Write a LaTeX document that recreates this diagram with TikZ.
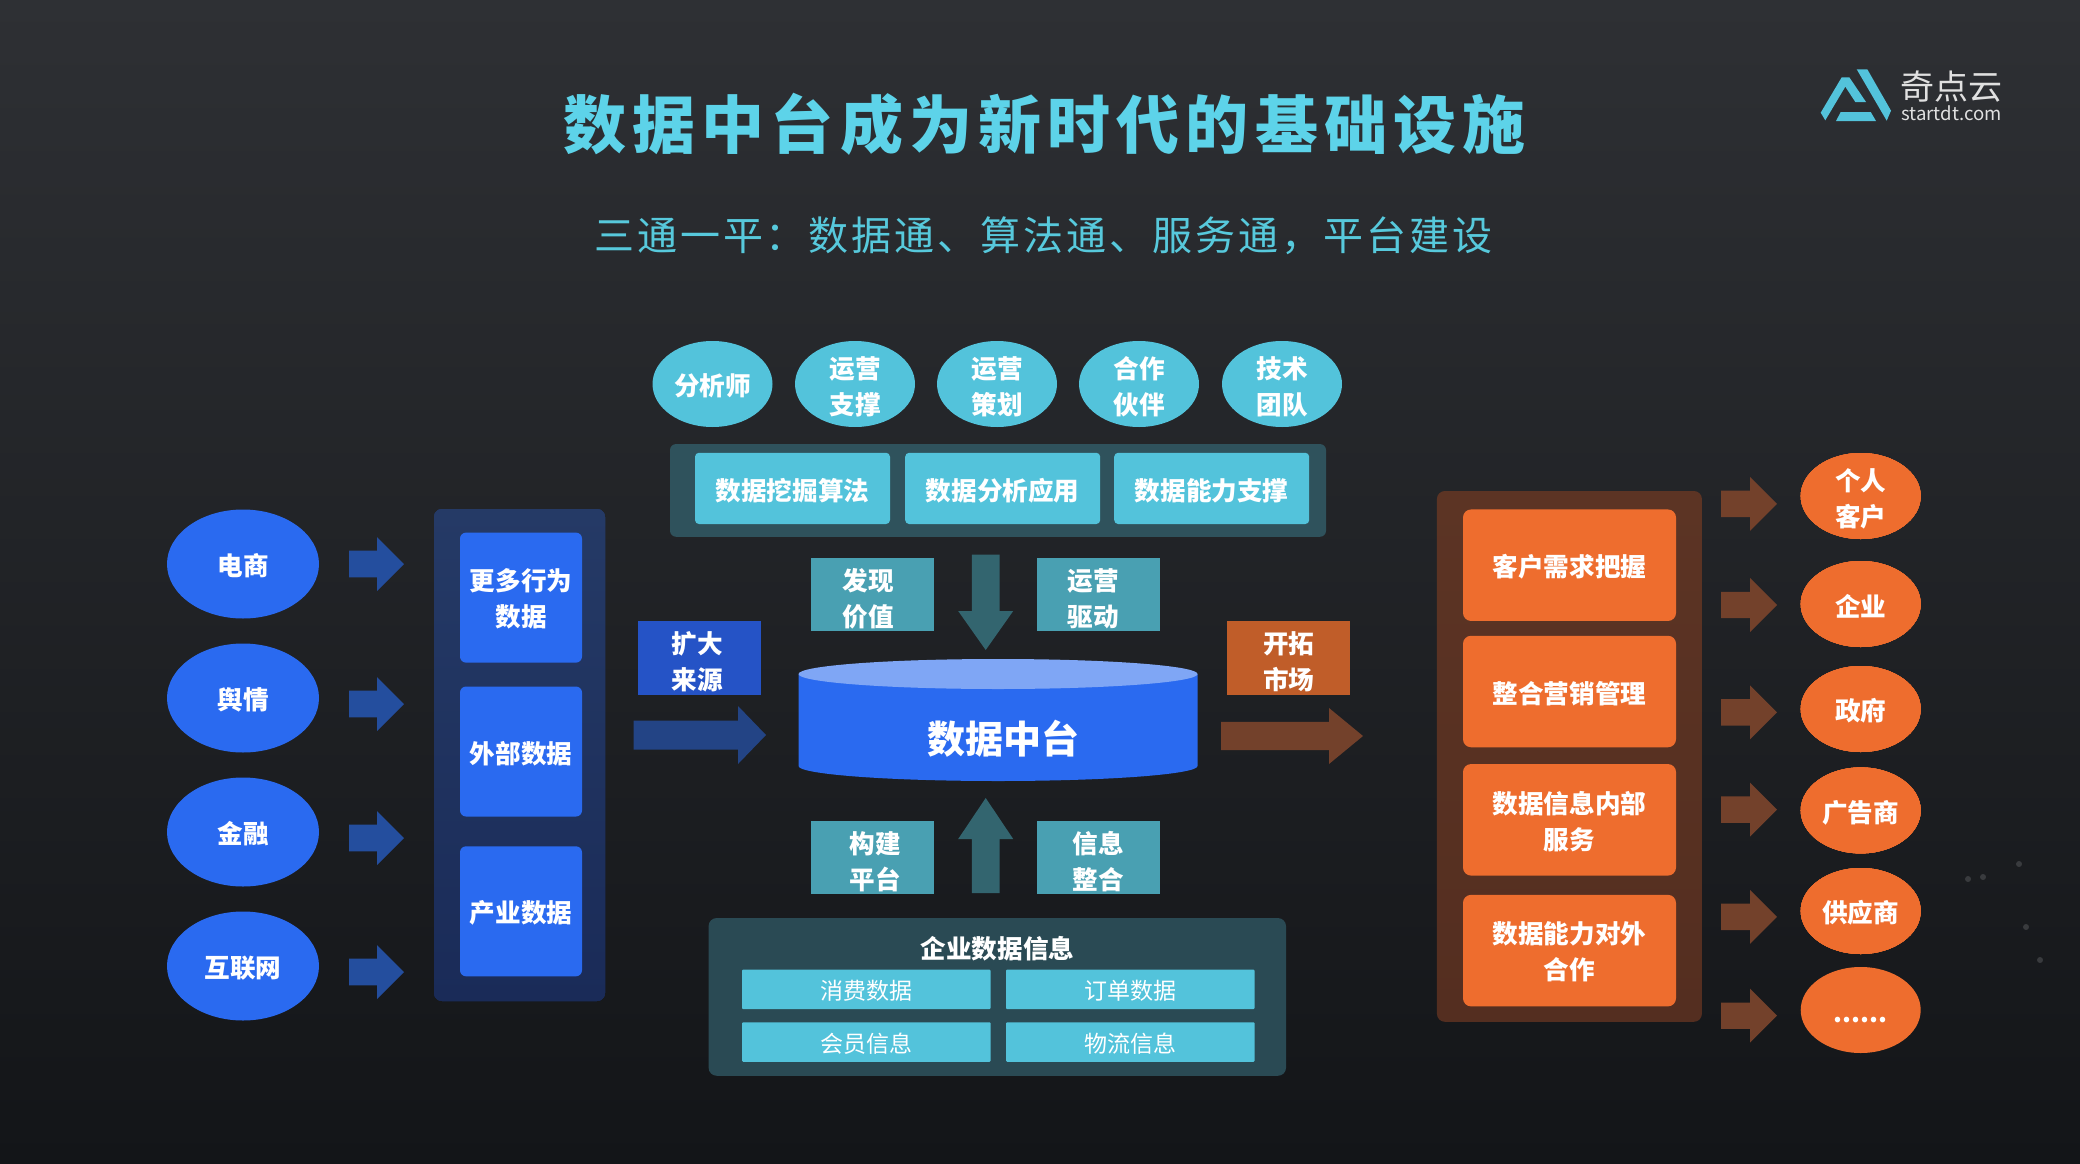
\documentclass[tikz,border=0pt]{standalone}
\usepackage{fontspec}
\setmainfont{Noto Sans CJK SC}
\usetikzlibrary{shapes.geometric}
\definecolor{bgtop}{HTML}{2E3034}
\definecolor{bgmid}{HTML}{202326}
\definecolor{bgbot}{HTML}{131518}
\definecolor{bluemain}{HTML}{2A6AF0}
\definecolor{bluearrow}{HTML}{244E9E}
\definecolor{bluewide}{HTML}{234485}
\definecolor{bluedeep}{HTML}{2553C6}
\definecolor{bluetop}{HTML}{253A66}
\definecolor{bluebot}{HTML}{1A2B58}
\definecolor{bluelid}{HTML}{7FA6F5}
\definecolor{cyanmain}{HTML}{53C3DB}
\definecolor{cyantitle}{HTML}{5DD3E9}
\definecolor{cyansub}{HTML}{57C9DC}
\definecolor{tealbox}{HTML}{49A0B2}
\definecolor{tealarrow}{HTML}{33656F}
\definecolor{tealtop}{HTML}{2F525C}
\definecolor{tealbot}{HTML}{2A4A54}
\definecolor{orangemain}{HTML}{EE6D2E}
\definecolor{orangedeep}{HTML}{C05D29}
\definecolor{orangearrow}{HTML}{73412B}
\definecolor{orangetop}{HTML}{5C3424}
\definecolor{orangebot}{HTML}{542E20}
\newcommand{\blockarrow}[8]{\fill[#8,shift={(#1,#2)},rotate=#3] (0,-#5) -- ({#4-#7},-#5) -- ({#4-#7},-#6) -- (#4,0) -- ({#4-#7},#6) -- ({#4-#7},#5) -- (0,#5) -- cycle;}
\tikzset{
	lift/.style={execute at begin node={\rule{0pt}{#1}}},
	label26/.style={font=\fontsize{25.6}{36}\selectfont\bfseries,text=white,align=center,inner sep=0pt,lift=26pt},
	dims/.style 2 args={minimum width=#1pt,minimum height=#2pt},
	box/.style={rectangle,label26,rounded corners=#1},
	box/.default=6pt,
	minibox/.style={rectangle,rounded corners=1pt,text=white,inner sep=0pt,font=\fontsize{23}{26}\selectfont,lift=22pt,fill=cyanmain,dims={248.5}{39.5}},
	oval/.style={ellipse,label26,inner sep=-4pt,minimum width=#1},
}
\begin{document}
\begin{tikzpicture}[x=1pt,y=-1pt,line join=round]
	\shade[top color=bgtop,middle color=bgmid,bottom color=bgbot] (0,0) rectangle (2080,1164);
	\useasboundingbox (0,0) rectangle (2080,1164);
	\foreach \x/\y in {2019/864,1983/877,1968/879,2026/927,2040/960}
		\fill[white!11!bgmid] (\x,\y) circle(3);
	\node[font=\fontsize{63}{66}\selectfont\bfseries,text=cyantitle,inner sep=0pt] (title) at (1044.5,124) {\addfontfeature{LetterSpace=9.8}数据中台成为新时代的基础设施};
	\node[font=\fontsize{40}{44}\selectfont,text=cyansub,inner sep=0pt] (subtitle) at (1043.5,236) {\addfontfeature{LetterSpace=7.3}三通一平：数据通、算法通、服务通，平台建设};
	\fill[cyanmain] (1820.7,112.7)--(1841.7,77.3)--(1849.3,77.3)--(1866,102)--(1855.3,102)--(1845.3,86.7)--(1825.3,120.3)--cycle;
	\fill[cyanmain] (1840.7,112)--(1870.7,112)--(1876,121)--(1836,121)--cycle;
	\fill[cyanmain] (1856.7,69.3)--(1867.3,69.3)--(1891,110.7)--(1886.7,120.7)--cycle;
	\node[font=\fontsize{34}{36}\selectfont,text=white!88!black,inner sep=0pt] (brand) at (1951,87) {奇点云};
	\node[font=\fontsize{18.6}{20}\selectfont,text=white!88!black,inner sep=0pt] (site) at (1951.5,113) {startdt.com};

	\foreach \y/\txt/\name in {564/电商/shop,698/舆情/news,832/金融/bank,966/互联网/web}
		\node[oval=152pt,minimum height=109pt,fill=bluemain] (\name) at (243,\y) {\txt};
	\foreach \y in {564,704,838,972}
		\blockarrow{349}{\y}{0}{55}{13.4}{27}{27}{bluearrow}
	\node[box=8pt,dims={171}{492},top color=bluetop,bottom color=bluebot] (srcpanel) at (519.5,755) {};
	\node[box,dims={122}{130},fill=bluemain,lift=61pt] (more) at (521,597.6) {更多行为\\数据};
	\node[box,dims={122}{130},fill=bluemain] (outer) at (521,751.5) {外部数据};
	\node[box,dims={122}{130},fill=bluemain] (industry) at (521,911.3) {产业数据};

	\foreach \x/\txt/\name/\up in {712.5/分析师/analyst/26pt,855/运营\\支撑/support/63pt,997/运营\\策划/plan/63pt,1139/合作\\伙伴/partner/63pt,1282/技术\\团队/tech/63pt}
		\node[oval=120pt,minimum height=86pt,fill=cyanmain,lift=\up] (\name) at (\x,384) {\txt};
	\node[box=6pt,dims={656}{92.7},fill=tealtop] (algopanel) at (998,490.4) {};
	\node[box=4pt,dims={195}{71.3},fill=cyanmain] (mining) at (792.5,488.4) {数据挖掘算法};
	\node[box=4pt,dims={195}{71.3},fill=cyanmain] (apply) at (1002.7,488.4) {数据分析应用};
	\node[box=4pt,dims={195}{71.3},fill=cyanmain] (ability) at (1211.7,488.4) {数据能力支撑};

	\node[box=0pt,dims={123}{73.5},fill=tealbox,lift=66pt] (value) at (872.5,594.4) {\hspace*{-9pt}发现\\\hspace*{-9pt}价值};
	\node[box=0pt,dims={123}{73.5},fill=tealbox,lift=66pt] (drive) at (1098.5,594.4) {\hspace*{-11pt}运营\\\hspace*{-11pt}驱动};
	\node[box=0pt,dims={123}{73.5},fill=tealbox,lift=66pt] (build) at (872.5,857.6) {\hspace*{5pt}构建\\\hspace*{5pt}平台};
	\node[box=0pt,dims={123}{73.5},fill=tealbox,lift=66pt] (merge) at (1098.5,857.6) {信息\\整合};
	\node[box=0pt,dims={123}{73.5},fill=bluedeep,lift=66pt] (expand) at (699.5,657.9) {\hspace*{-5pt}扩大\\\hspace*{-5pt}来源};
	\node[box=0pt,dims={123}{73.5},fill=orangedeep,lift=66pt] (market) at (1288.8,657.9) {开拓\\市场};

	\blockarrow{985.7}{554.7}{-90}{95.3}{13.8}{27.5}{39}{tealarrow}
	\blockarrow{985.7}{893}{90}{95}{13.8}{27.5}{41}{tealarrow}
	\blockarrow{633.7}{735}{0}{132.3}{14.5}{29}{28}{bluewide}
	\blockarrow{1221}{736}{0}{142}{14.2}{28}{34}{orangearrow}

	\fill[bluemain] (798.5,674) -- (798.5,766) arc[start angle=180,end angle=0,x radius=199.5,y radius=15] -- (1197.5,674) -- cycle;
	\fill[bluelid] (998,674) ellipse[x radius=199.5,y radius=15];
	\node[font=\fontsize{38}{40}\selectfont\bfseries,text=white,inner sep=0pt] (core) at (1003.5,739) {数据中台};

	\node[box=8pt,dims={577.4}{157.7},fill=tealbot] (infopanel) at (997.3,996.9) {};
	\node[label26] (infotitle) at (997.5,947) {企业数据信息};
	\node[minibox] (spend) at (866.3,989.4) {消费数据};
	\node[minibox] (order) at (1130.3,989.4) {订单数据};
	\node[minibox] (member) at (866.3,1042) {会员信息};
	\node[minibox] (logistics) at (1130.3,1042) {物流信息};

	\node[box=8pt,dims={265}{530.8},top color=orangetop,bottom color=orangebot] (svcpanel) at (1569.4,756.4) {};
	\node[box=8pt,dims={213}{111.5},fill=orangemain] (demand) at (1569.5,565.2) {客户需求把握};
	\node[box=8pt,dims={213}{111.5},fill=orangemain] (sales) at (1569.5,691.5) {整合营销管理};
	\node[box=8pt,dims={213}{111.5},fill=orangemain,lift=61pt] (inner) at (1569.5,819.8) {数据信息内部\\服务};
	\node[box=8pt,dims={213}{111.5},fill=orangemain,lift=61pt] (coop) at (1569.5,950.6) {数据能力对外\\合作};

	\foreach \y in {503.9,605,712.4,809.6,916.9,1015.7}
		\blockarrow{1721}{\y}{0}{56}{13.2}{27}{27}{orangearrow}
	\foreach \y/\txt/\name/\up in {496/个人\\客户/person/63pt,604/企业/firm/24pt,709/政府/gov/26pt,810.4/广告商/adv/26pt,911/供应商/supply/26pt}
		\node[oval=120pt,minimum height=86pt,fill=orangemain,lift=\up] (\name) at (1860.7,\y) {\txt};
	\node[oval=120pt,minimum height=86pt,fill=orangemain] (others) at (1860.7,1010) {......};
\end{tikzpicture}
\end{document}
